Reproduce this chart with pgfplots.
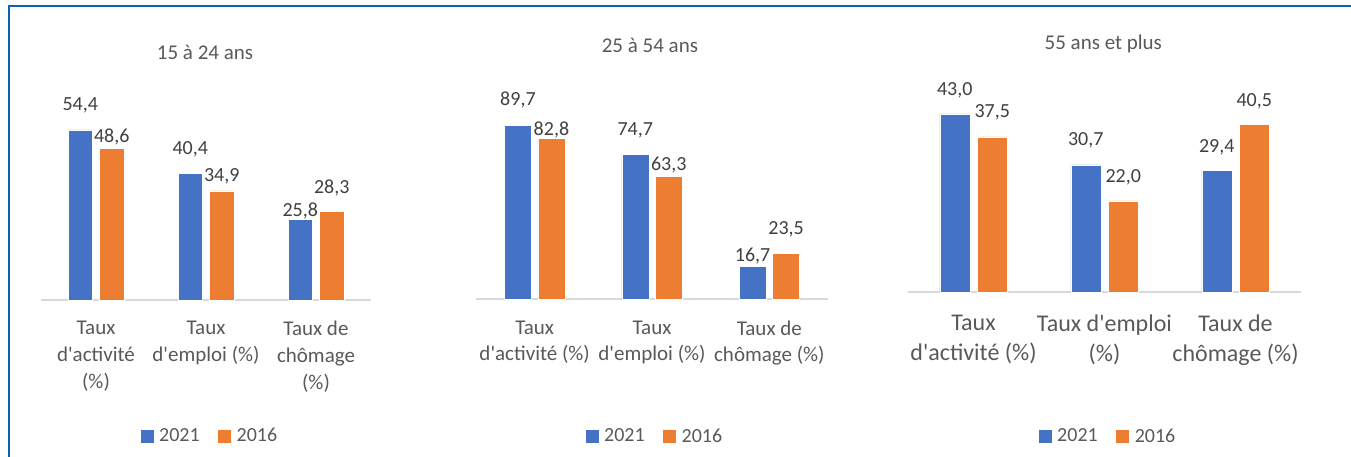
\documentclass[border=0pt]{standalone}
\usepackage{fontspec}
\setmainfont{Carlito}[Ligatures=TeXOff]
\usepackage{pgfplots}
\pgfplotsset{compat=1.18}
\usepackage{pgfplotstable}

\definecolor{bleu}{HTML}{4472C4}
\definecolor{orangeX}{HTML}{ED7D31}
\definecolor{txt}{HTML}{595959}
\definecolor{lbl}{HTML}{404040}
\definecolor{axe}{HTML}{D9D9D9}
\definecolor{cadre}{HTML}{0A62B0}

% d = hauteur du centre de l'étiquette au-dessus de la barre (px)
\pgfplotstableread{
x y d
0 54.4 25
1 40.4 24
2 25.8 8
}\jeunesA
\pgfplotstableread{
x y d
0 48.6 11
1 34.9 15
2 28.3 24
}\jeunesB
\pgfplotstableread{
x y d
0 89.7 25
1 74.7 24
2 16.7 11
}\adultesA
\pgfplotstableread{
x y d
0 82.8 9
1 63.3 11
2 23.5 24
}\adultesB
\pgfplotstableread{
x y d
0 43.0 24
1 30.7 25
2 29.4 23
}\seniorsA
\pgfplotstableread{
x y d
0 37.5 24
1 22.0 24
2 40.5 23
}\seniorsB

\pgfplotsset{
  panneau/.style={
    scale only axis, ybar, ymin=0, clip=false,
    axis x line*=bottom, axis y line=none,
    x axis line style={axe, line width=1.5pt},
    xmin=-0.5, xmax=2.5, xtick={0,1,2}, major tick length=0pt,
    ytick=\empty,
    xticklabel style={align=center, text=txt, inner sep=0pt},
    nodes near coords={\pgfmathprintnumber[assume math mode=true,use comma,fixed,fixed zerofill,precision=1]{\pgfplotspointmeta}},
    visualization depends on={\thisrow{d}\as\labd},
    every node near coord/.append style={font=\fontsize{20}{24}\selectfont, text=lbl, anchor=center, yshift=\labd pt},
    legend columns=-1,
    legend style={draw=none, fill=none, anchor=center, font=\fontsize{20}{24}\selectfont, text=txt,
      nodes={inner xsep=6pt},
      /tikz/every even column/.append style={column sep=12.5pt}},
    title style={font=\fontsize{21}{24}\selectfont, text=txt, anchor=center, yshift=0pt},
  },
  serieA/.style={fill=bleu, draw=white, line width=0.5pt,
    legend image code/.code={\fill[bleu] (0pt,-6pt) rectangle (12pt,6pt);}},
  serieB/.style={fill=orangeX, draw=white, line width=0.5pt,
    legend image code/.code={\fill[orangeX] (0pt,-6pt) rectangle (12pt,6pt);}},
}

\begin{document}
\begin{tikzpicture}
\path[use as bounding box] (0pt,0pt) rectangle (1351pt,457pt);
\draw[cadre, line width=2pt] (9pt,0pt) -- (9pt,451pt) -- (1351pt,451pt);

\begin{axis}[panneau,
    at={(41pt,157pt)}, anchor=south west,
    width=330pt, height=187.5pt, ymax=60,
    bar width=24.5pt, ybar=7pt,
    xticklabels={Taux\\d'activité\\(\%), Taux\\d'emploi (\%), Taux de\\chômage\\(\%)},
    xticklabel style={font=\fontsize{21}{27}\selectfont, yshift=-21pt},
    title={15 à 24 ans}, title style={at={(0.497,1.291)}},
    legend style={at={(0.518,-0.725)}},
  ]
  \addplot[serieA] table[x=x, y=y] {\jeunesA};
  \addplot[serieB] table[x=x, y=y] {\jeunesB};
  \legend{2021, 2016}
\end{axis}

\begin{axis}[panneau,
    at={(476pt,158pt)}, anchor=south west,
    width=352pt, height=193.6pt, ymax=100,
    bar width=27pt, ybar=6.5pt,
    xticklabels={Taux\\d'activité (\%), Taux\\d'emploi (\%), Taux de\\chômage (\%)},
    xticklabel style={font=\fontsize{21}{26}\selectfont, yshift=-22pt},
    title={25 à 54 ans}, title style={at={(0.494,1.281)}},
    legend style={at={(0.514,-0.708)}},
  ]
  \addplot[serieA] table[x=x, y=y] {\adultesA};
  \addplot[serieB] table[x=x, y=y] {\adultesB};
  \legend{2021, 2016}
\end{axis}

\begin{axis}[panneau,
    at={(908pt,165pt)}, anchor=south west,
    width=393pt, height=207pt, ymax=50,
    bar width=30pt, ybar=7.5pt,
    xticklabels={Taux\\d'activité (\%), Taux d'emploi\\(\%), Taux de\\chômage (\%)},
    xticklabel style={font=\fontsize{24}{30}\selectfont, yshift=-23pt},
    title={55 ans et plus}, title style={at={(0.497,1.169)}},
    legend style={at={(0.514,-0.696)}},
  ]
  \addplot[serieA] table[x=x, y=y] {\seniorsA};
  \addplot[serieB] table[x=x, y=y] {\seniorsB};
  \legend{2021, 2016}
\end{axis}
\end{tikzpicture}
\end{document}
